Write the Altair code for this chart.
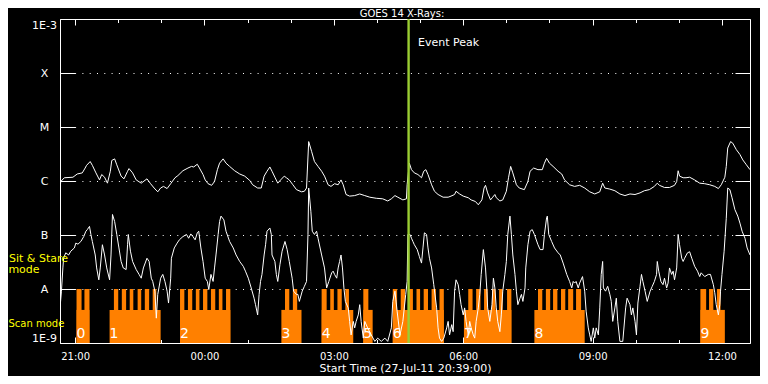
import altair as alt
import numpy as np
import pandas as pd

FONT = "DejaVu Sans"

# GOES 14 long channel (1-8 A): clock time, log10 flux (W/m^2)
long_time = [
    "20:39", "20:40", "20:45", "20:57", "21:03", "21:10", "21:14", "21:16", "21:21", "21:24",
    "21:29", "21:34", "21:37", "21:41", "21:45", "21:49", "21:51", "21:55", "21:58", "22:04",
    "22:08", "22:13", "22:15", "22:20", "22:25", "22:32", "22:40", "22:45", "22:50", "22:55",
    "22:59", "23:03", "23:08", "23:13", "23:19", "23:23", "23:30", "23:37", "23:42", "23:45",
    "23:50", "23:53", "23:58", "00:01", "00:05", "00:10", "00:14", "00:18", "00:21", "00:26",
    "00:30", "00:35", "00:42", "00:49", "00:56", "01:03", "01:07", "01:14", "01:19", "01:23",
    "01:27", "01:31", "01:34", "01:38", "01:42", "01:46", "01:51", "01:54", "01:58", "02:03",
    "02:08", "02:15", "02:19", "02:22", "02:25", "02:29", "02:33", "02:38", "02:43", "02:47",
    "02:52", "02:56", "03:01", "03:06", "03:10", "03:13", "03:17", "03:22", "03:29", "03:36",
    "03:43", "03:50", "03:59", "04:08", "04:15", "04:20", "04:25", "04:29", "04:36", "04:41",
    "04:42", "04:45", "04:48", "04:52", "04:57", "05:02", "05:05", "05:08", "05:11", "05:16",
    "05:20", "05:25", "05:32", "05:39", "05:43", "05:48", "05:50", "05:55", "06:00", "06:07",
    "06:11", "06:17", "06:21", "06:26", "06:29", "06:31", "06:34", "06:38", "06:41", "06:44",
    "06:46", "06:51", "06:55", "07:00", "07:03", "07:06", "07:09", "07:14", "07:18", "07:25",
    "07:30", "07:33", "07:38", "07:44", "07:50", "07:53", "07:56", "08:00", "08:05", "08:12",
    "08:17", "08:21", "08:28", "08:35", "08:42", "08:49", "08:56", "09:03", "09:10", "09:14",
    "09:17", "09:24", "09:31", "09:38", "09:45", "09:52", "09:59", "10:06", "10:12", "10:19",
    "10:26", "10:30", "10:33", "10:40", "10:47", "10:54", "10:57", "10:59", "11:01", "11:06",
    "11:10", "11:15", "11:22", "11:29", "11:36", "11:43", "11:50", "11:55", "11:59", "12:04",
    "12:06", "12:08", "12:12", "12:15", "12:20", "12:25", "12:29", "12:34", "12:39",
]
long_log = [
    -6.16, -6.01, -5.94, -5.93, -5.87, -5.85, -5.76, -5.71, -5.64, -5.71,
    -5.85, -5.98, -5.88, -5.93, -6.04, -5.82, -5.62, -5.59, -5.70, -5.91,
    -5.96, -5.82, -5.77, -5.85, -5.98, -6.04, -5.96, -6.05, -6.13, -6.20,
    -6.13, -6.10, -6.14, -6.05, -5.94, -5.90, -5.81, -5.76, -5.73, -5.74,
    -5.69, -5.76, -5.88, -5.98, -6.05, -6.08, -6.01, -5.79, -5.67, -5.59,
    -5.67, -5.73, -5.81, -5.87, -5.91, -5.99, -6.07, -6.13, -6.13, -5.91,
    -5.82, -5.74, -5.82, -5.93, -6.04, -5.98, -5.91, -5.94, -5.98, -6.07,
    -6.16, -6.20, -6.19, -6.13, -5.27, -5.45, -5.64, -5.73, -5.82, -5.91,
    -6.07, -6.10, -6.05, -6.07, -5.98, -6.07, -6.25, -6.28, -6.27, -6.24,
    -6.27, -6.30, -6.32, -6.33, -6.37, -6.33, -6.27, -6.30, -6.35, -6.33,
    -6.07, -5.67, -5.79, -5.85, -5.88, -5.94, -5.82, -5.79, -5.88, -6.07,
    -6.19, -6.25, -6.30, -6.30, -6.28, -6.25, -6.19, -6.24, -6.28, -6.31,
    -6.35, -6.38, -6.44, -6.35, -6.13, -6.08, -6.22, -6.35, -6.30, -6.25,
    -6.31, -6.37, -6.35, -6.19, -5.94, -5.73, -5.85, -6.07, -6.13, -6.16,
    -6.01, -5.82, -5.76, -5.79, -5.79, -5.67, -5.58, -5.67, -5.73, -5.82,
    -5.87, -5.98, -6.07, -6.10, -6.08, -6.13, -6.20, -6.24, -6.20, -6.04,
    -6.13, -6.15, -6.18, -6.24, -6.27, -6.24, -6.25, -6.22, -6.18, -6.16,
    -6.10, -6.04, -6.08, -6.12, -6.12, -6.08, -6.01, -5.81, -5.91, -5.94,
    -5.94, -5.93, -5.98, -6.04, -6.05, -6.07, -6.10, -6.14, -6.07, -5.93,
    -5.73, -5.39, -5.27, -5.30, -5.42, -5.51, -5.61, -5.70, -5.79,
]

# GOES 14 short channel (0.5-4 A)
short_time = [
    "20:39", "20:41", "20:43", "20:44", "20:47", "20:51", "20:54", "20:59", "21:01", "21:04",
    "21:08", "21:12", "21:15", "21:17", "21:20", "21:22", "21:24", "21:28", "21:30", "21:33",
    "21:35", "21:38", "21:41", "21:44", "21:48", "21:50", "21:52", "21:55", "21:58", "22:01",
    "22:04", "22:07", "22:11", "22:13", "22:14", "22:17", "22:20", "22:25", "22:29", "22:32",
    "22:35", "22:40", "22:43", "22:46", "22:48", "22:51", "22:53", "22:55", "22:59", "23:02",
    "23:05", "23:08", "23:10", "23:13", "23:14", "23:18", "23:22", "23:25", "23:30", "23:35",
    "23:38", "23:41", "23:44", "23:47", "23:50", "23:52", "23:55", "23:58", "00:01", "00:04",
    "00:06", "00:09", "00:12", "00:14", "00:16", "00:19", "00:21", "00:23", "00:27", "00:30",
    "00:35", "00:40", "00:44", "00:49", "00:54", "00:57", "01:01", "01:05", "01:09", "01:11",
    "01:14", "01:16", "01:18", "01:20", "01:23", "01:25", "01:27", "01:31", "01:33", "01:34",
    "01:38", "01:40", "01:42", "01:45", "01:48", "01:52", "01:55", "01:58", "02:02", "02:04",
    "02:08", "02:10", "02:12", "02:16", "02:19", "02:22", "02:24", "02:25", "02:28", "02:30",
    "02:33", "02:36", "02:38", "02:43", "02:47", "02:50", "02:53", "02:57", "02:59", "03:01",
    "03:04", "03:06", "03:08", "03:10", "03:12", "03:14", "03:16", "03:20", "03:22", "03:24",
    "03:27", "03:29", "03:31", "03:34", "03:36", "03:38", "03:41", "03:43", "03:47", "03:52",
    "03:57", "04:01", "04:06", "04:11", "04:15", "04:20", "04:22", "04:25", "04:28", "04:32",
    "04:36", "04:40", "04:42", "04:43", "04:46", "04:48", "04:50", "04:52", "04:56", "04:59",
    "05:02", "05:04", "05:06", "05:09", "05:11", "05:13", "05:16", "05:19", "05:23", "05:25",
    "05:27", "05:30", "05:33", "05:37", "05:39", "05:41", "05:44", "05:46", "05:48", "05:50",
    "05:53", "05:55", "05:57", "06:00", "06:02", "06:04", "06:07", "06:09", "06:11", "06:14",
    "06:16", "06:18", "06:21", "06:23", "06:25", "06:28", "06:31", "06:33", "06:34", "06:37",
    "06:40", "06:42", "06:44", "06:46", "06:48", "06:51", "06:53", "06:55", "06:58", "07:00",
    "07:02", "07:05", "07:07", "07:09", "07:12", "07:14", "07:16", "07:19", "07:21", "07:23",
    "07:26", "07:27", "07:30", "07:33", "07:36", "07:39", "07:44", "07:47", "07:51", "07:53",
    "07:56", "07:57", "07:59", "08:03", "08:07", "08:12", "08:15", "08:19", "08:24", "08:28",
    "08:31", "08:33", "08:35", "08:37", "08:40", "08:42", "08:46", "08:49", "08:51", "08:54",
    "08:56", "08:58", "09:01", "09:03", "09:05", "09:08", "09:10", "09:12", "09:14", "09:15",
    "09:18", "09:21", "09:24", "09:26", "09:28", "09:31", "09:33", "09:35", "09:38", "09:42",
    "09:46", "09:48", "09:52", "09:54", "09:56", "09:59", "10:01", "10:03", "10:06", "10:08",
    "10:10", "10:13", "10:16", "10:20", "10:23", "10:26", "10:29", "10:30", "10:32", "10:35",
    "10:38", "10:40", "10:43", "10:45", "10:47", "10:50", "10:52", "10:54", "10:57", "10:59",
    "11:01", "11:04", "11:06", "11:08", "11:12", "11:15", "11:18", "11:22", "11:26", "11:29",
    "11:31", "11:36", "11:41", "11:44", "11:48", "11:50", "11:52", "11:55", "11:57", "11:58",
    "12:00", "12:03", "12:06", "12:08", "12:11", "12:14", "12:18", "12:22", "12:25", "12:28",
    "12:32", "12:35", "12:39",
]
short_log = [
    -8.35, -8.04, -7.61, -7.43, -7.33, -7.37, -7.30, -7.24, -7.15, -7.17,
    -7.12, -7.03, -6.93, -6.90, -6.84, -6.99, -7.12, -7.37, -7.61, -7.83,
    -7.61, -7.18, -7.37, -7.61, -7.83, -7.37, -6.62, -6.75, -6.99, -7.24,
    -7.49, -7.61, -7.64, -7.18, -6.99, -7.30, -7.49, -7.64, -7.73, -7.80,
    -7.61, -7.43, -7.49, -7.80, -7.86, -8.04, -8.54, -8.10, -7.80, -7.73,
    -7.86, -8.04, -8.26, -7.80, -7.43, -7.24, -7.15, -7.09, -7.03, -6.99,
    -7.06, -6.98, -7.03, -7.09, -6.96, -6.93, -7.24, -7.49, -7.80, -7.86,
    -8.01, -7.73, -7.86, -7.61, -7.37, -6.99, -6.75, -6.65, -6.72, -6.93,
    -7.12, -7.24, -7.37, -7.49, -7.58, -7.67, -7.80, -7.98, -8.17, -8.29,
    -8.48, -8.10, -7.86, -7.73, -7.37, -7.18, -6.93, -6.87, -6.99, -7.37,
    -7.49, -7.73, -7.86, -7.55, -7.30, -7.12, -7.27, -7.49, -7.80, -8.04,
    -8.10, -8.10, -8.23, -8.04, -7.95, -7.86, -6.99, -6.13, -6.56, -6.93,
    -6.99, -6.93, -7.06, -7.37, -7.61, -7.98, -7.86, -7.70, -7.67, -7.73,
    -7.80, -7.61, -7.49, -7.37, -7.61, -7.98, -8.23, -8.35, -8.60, -8.85,
    -8.60, -8.72, -8.60, -8.48, -8.29, -8.60, -8.91, -8.60, -8.72, -8.85,
    -8.97, -8.91, -8.97, -8.91, -8.97, -8.72, -8.23, -8.04, -8.41, -8.85,
    -8.60, -8.10, -7.86, -6.99, -6.99, -7.06, -7.12, -7.18, -7.27, -7.40,
    -7.52, -7.24, -6.96, -6.99, -7.24, -7.43, -7.61, -7.92, -8.35, -8.72,
    -8.91, -8.97, -8.91, -8.72, -8.60, -8.85, -8.66, -8.79, -8.04, -7.83,
    -7.92, -8.10, -8.29, -8.48, -8.35, -8.60, -8.85, -8.60, -8.72, -8.85,
    -8.91, -8.60, -8.35, -8.10, -7.73, -7.27, -7.61, -8.04, -8.35, -8.60,
    -8.29, -7.80, -7.98, -8.35, -8.60, -8.79, -8.48, -8.04, -7.73, -7.49,
    -6.99, -6.65, -6.99, -7.37, -7.73, -8.04, -8.29, -8.17, -8.10, -8.23,
    -7.98, -7.61, -7.18, -6.93, -6.90, -6.99, -7.18, -7.27, -7.27, -6.99,
    -6.68, -6.65, -6.99, -7.12, -7.24, -7.33, -7.37, -7.52, -7.73, -7.86,
    -7.98, -7.86, -7.89, -7.86, -7.98, -7.89, -7.77, -8.04, -8.41, -8.72,
    -8.85, -8.97, -8.72, -8.91, -8.72, -8.85, -8.35, -7.73, -7.49, -7.98,
    -8.04, -7.95, -8.10, -8.23, -8.60, -8.35, -8.17, -8.60, -8.97, -8.97,
    -8.35, -8.17, -8.29, -8.48, -8.35, -8.60, -8.85, -8.26, -7.95, -7.73,
    -7.86, -8.04, -8.23, -8.04, -7.95, -7.86, -7.73, -7.49, -7.67, -7.86,
    -7.92, -7.80, -7.98, -7.89, -7.61, -7.73, -7.67, -7.83, -7.61, -6.99,
    -7.18, -7.43, -7.49, -7.43, -7.33, -7.31, -7.43, -7.58, -7.67, -7.77,
    -7.70, -7.77, -7.73, -7.73, -7.92, -8.07, -8.29, -8.48, -8.29, -8.04,
    -7.73, -7.30, -6.69, -6.13, -6.16, -6.31, -6.53, -6.65, -6.78, -6.93,
    -7.06, -7.24, -7.37,
]

# Observing sequences (numbered) and their sit & stare sub-intervals
seg_label = ["0", "1", "2", "3", "4", "5", "6", "7", "8", "9"]
seg_start = ["21:02", "21:48", "23:26", "01:47", "02:43", "03:41", "04:22", "06:01", "07:39", "11:30"]
seg_end = ["21:20", "22:59", "00:36", "02:15", "03:27", "03:54", "05:33", "07:07", "08:49", "12:04"]
stare_start = ["21:02", "21:13",
               "21:54", "22:05", "22:16", "22:27", "22:37", "22:48",
               "23:26", "23:37", "23:48", "23:58", "00:09", "00:20", "00:30",
               "01:52", "02:03",
               "02:43", "02:55", "03:05", "03:16",
               "03:41",
               "04:22", "04:33", "04:43", "04:55", "05:05", "05:16", "05:27",
               "06:07", "06:18", "06:29", "06:40", "06:50", "07:01",
               "07:44", "07:55", "08:05", "08:16", "08:26", "08:37",
               "11:30", "11:42", "11:53"]
stare_end = ["21:09", "21:20",
             "22:00", "22:11", "22:21", "22:32", "22:43", "22:53",
             "23:32", "23:43", "23:53", "00:04", "00:15", "00:25", "00:36",
             "01:58", "02:09",
             "02:50", "03:00", "03:11", "03:21",
             "03:48",
             "04:28", "04:39", "04:50", "05:00", "05:11", "05:22", "05:33",
             "06:13", "06:24", "06:34", "06:45", "06:55", "07:07",
             "07:50", "08:01", "08:11", "08:22", "08:33", "08:44",
             "11:38", "11:48", "11:58"]
event_peak = "04:44"
chart_title = "GOES 14 X-Rays:"

SCAN_LEVEL = 4.1e-9
STARE_LEVEL = 1e-8
FLOOR = 1e-9


def ts(hhmm):
    h, m = map(int, hhmm.split(":"))
    day = 27 if h >= 20 else 28
    return pd.Timestamp(2011, 7, day, h, m)


def dt(h, m=0):
    day = 27 if h >= 20 else 28
    return alt.DateTime(year=2011, month=7, date=day, hours=h, minutes=m)


long_df = pd.DataFrame({"t": [ts(s) for s in long_time], "flux": 10.0 ** np.array(long_log)})
short_df = pd.DataFrame({"t": [ts(s) for s in short_time], "flux": 10.0 ** np.array(short_log)})
seg_df = pd.DataFrame({"label": seg_label,
                       "start": [ts(s) for s in seg_start],
                       "end": [ts(s) for s in seg_end]})
stare_df = pd.DataFrame({"start": [ts(s) for s in stare_start],
                         "end": [ts(s) for s in stare_end]})
peak_df = pd.DataFrame({"t": [ts(event_peak)], "label": ["Event Peak"]})

X_SCALE = alt.Scale(domain=[dt(20, 39), dt(12, 39)], nice=False)
Y_SCALE = alt.Scale(type="log", domain=[1e-9, 1e-3], nice=False)

major_vals = [dt(h) for h in [21, 0, 3, 6, 9, 12]]
minor_vals = [dt(h) for h in [21, 22, 23, 0, 1, 2, 3, 4, 5, 6, 7, 8, 9, 10, 11, 12]]
decades = [1e-9, 1e-8, 1e-7, 1e-6, 1e-5, 1e-4, 1e-3]

LABEL_EXPR = ("datum.value > 0.0003 ? '1E-3' : datum.value > 0.00003 ? 'X' : "
              "datum.value > 0.000003 ? 'M' : datum.value > 0.0000003 ? 'C' : "
              "datum.value > 0.00000003 ? 'B' : datum.value > 0.000000003 ? 'A' : '1E-9'")

ax_x_main = alt.Axis(orient="bottom", values=major_vals, format="%H:%M",
                     labelColor="white", labelFont=FONT, labelFontSize=10, labelPadding=8,
                     labelFlush=False, ticks=False, tickSize=0,
                     domain=True, domainColor="white", domainWidth=1, grid=False,
                     title="Start Time (27-Jul-11 20:39:00)", titleColor="white",
                     titleFont=FONT, titleFontSize=11, titleFontWeight="normal",
                     titleY=19, titleBaseline="top")
ax_y_main = alt.Axis(orient="left", values=decades, labelExpr=LABEL_EXPR,
                     labelColor="white", labelFont=FONT, labelFontSize=11,
                     labelAlign="center", labelPadding=16, labelFlush=True,
                     ticks=False, tickSize=0, domain=True, domainColor="white", domainWidth=1,
                     grid=True, gridColor="white", gridDash=[1, 6.3], gridWidth=1, gridOpacity=1,
                     title=None)


def tick_axis(orient, values, size):
    return alt.Axis(orient=orient, values=values, offset=-size, tickSize=size, ticks=True,
                    tickColor="white", tickWidth=1, labels=False, domain=False, grid=False,
                    title=None)


def border_axis(orient):
    return alt.Axis(orient=orient, domain=True, domainColor="white", domainWidth=1,
                    ticks=False, labels=False, grid=False, title=None)


ORANGE = "#ff8000"

scan = alt.Chart(seg_df).mark_rect(color=ORANGE).encode(
    x=alt.X("start:T", scale=X_SCALE, axis=ax_x_main),
    x2="end:T",
    y=alt.YDatum(FLOOR, type="quantitative", scale=Y_SCALE, axis=ax_y_main),
    y2=alt.Y2Datum(SCAN_LEVEL),
)
stare = alt.Chart(stare_df).mark_rect(color=ORANGE).encode(
    x=alt.X("start:T", scale=X_SCALE, axis=tick_axis("bottom", major_vals, 6)),
    x2="end:T",
    y=alt.YDatum(FLOOR, type="quantitative", scale=Y_SCALE, axis=tick_axis("left", decades, 15)),
    y2=alt.Y2Datum(STARE_LEVEL),
)
digits = alt.Chart(seg_df).mark_text(align="left", baseline="alphabetic", color="white",
                                     font=FONT, fontSize=14).encode(
    x=alt.X("start:T", scale=X_SCALE, axis=tick_axis("top", minor_vals, 3.5)),
    y=alt.YDatum(1.25e-9, type="quantitative", scale=Y_SCALE, axis=None),
    text="label:N",
)
long_line = alt.Chart(long_df).mark_line(color="white", strokeWidth=1, clip=True).encode(
    x=alt.X("t:T", scale=X_SCALE, axis=tick_axis("top", major_vals, 6)),
    y=alt.Y("flux:Q", scale=Y_SCALE, axis=tick_axis("right", decades, 15)),
)
short_line = alt.Chart(short_df).mark_line(color="white", strokeWidth=1, clip=True).encode(
    x=alt.X("t:T", scale=X_SCALE, axis=tick_axis("bottom", minor_vals, 3.5)),
    y=alt.Y("flux:Q", scale=Y_SCALE, axis=border_axis("right")),
)
peak_rule = alt.Chart(peak_df).mark_rule(color="#9acd32", strokeWidth=2.4).encode(
    x=alt.X("t:T", scale=X_SCALE, axis=None),
)
peak_text = alt.Chart(peak_df).mark_text(align="left", baseline="middle", dx=9.5,
                                         color="white", font=FONT, fontSize=11).encode(
    x=alt.X("t:T", scale=X_SCALE, axis=border_axis("top")),
    y=alt.YDatum(3.64e-4, type="quantitative", scale=Y_SCALE, axis=None),
    text="label:N",
)

# Chart title drawn as a text mark just above the plot frame
title_mark = alt.Chart(pd.DataFrame({"label": [chart_title]})).mark_text(
    align="center", baseline="alphabetic", color="white", font=FONT, fontSize=10
).encode(
    x=alt.value(342),
    y=alt.value(-1.7),
    text="label:N",
)


def mode_text(label, level, xpx, align, size):
    return alt.Chart(pd.DataFrame({"label": [label]})).mark_text(
        align=align, baseline="middle", color="#ffff00", font=FONT, fontSize=size
    ).encode(
        x=alt.value(xpx),
        y=alt.YDatum(level, type="quantitative", scale=Y_SCALE, axis=None),
        text="label:N",
    )


mode1 = mode_text("Sit & Stare", 3.64e-8, -51, "left", 11)
mode2 = mode_text("mode", 2.23e-8, -36, "center", 11)
mode3 = mode_text("Scan mode", 2.28e-9, -51.5, "left", 10)

chart = alt.layer(
    scan, stare, digits, long_line, short_line, peak_rule, peak_text, title_mark,
    mode1, mode2, mode3
).resolve_axis(
    x="independent", y="independent"
).properties(
    width=690,
    height=324,
    autosize=alt.AutoSizeParams(type="none"),
    padding={"left": 52, "top": 11, "right": 10, "bottom": 33},
).configure(
    background="black"
).configure_view(
    stroke=None
)

chart.save("out.html", embed_options={"renderer": "svg", "actions": False})
